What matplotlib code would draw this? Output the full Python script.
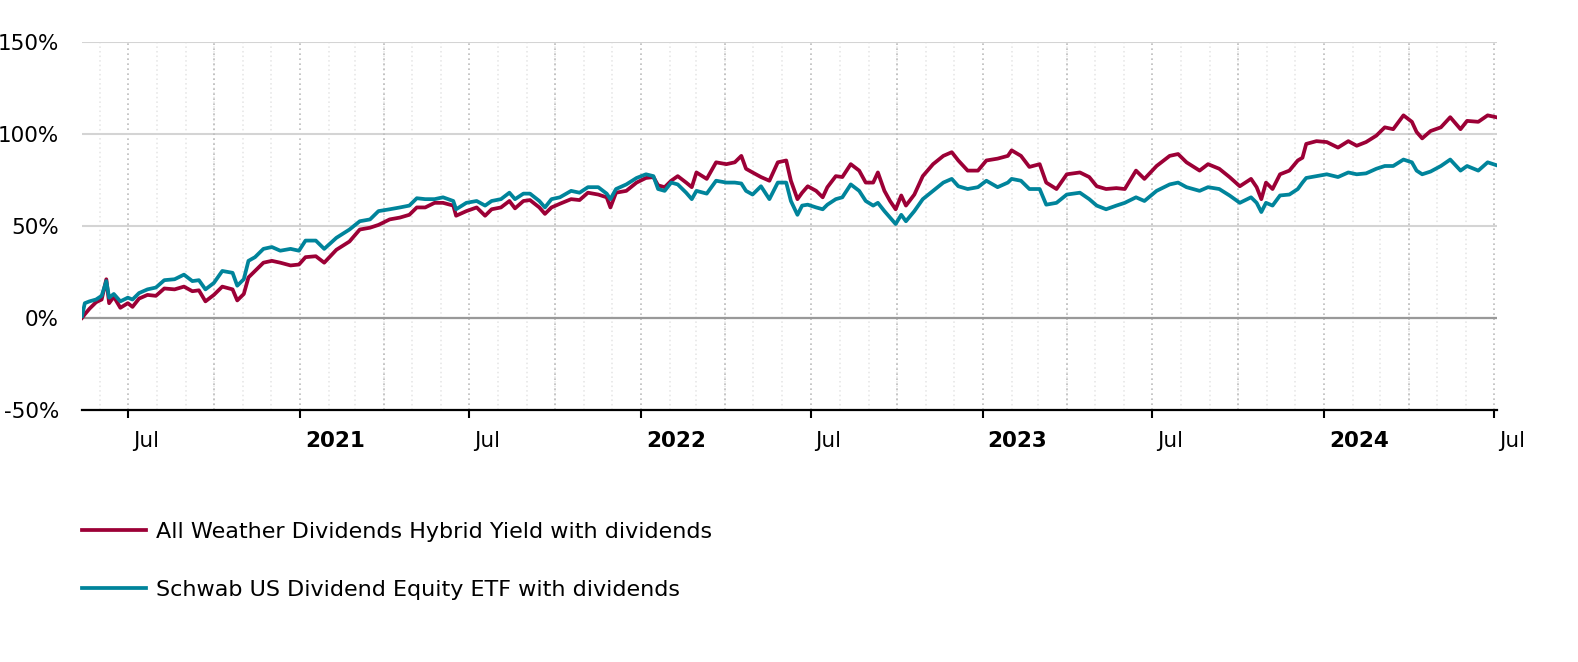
import matplotlib
matplotlib.use("Agg")
import matplotlib.pyplot as plt
from matplotlib.transforms import ScaledTranslation
import pandas as pd

# values (cumulative return in %)
dates = [
    "2020-05-13", "2020-05-16", "2020-05-21", "2020-05-28", "2020-06-03", "2020-06-08",
    "2020-06-11", "2020-06-16", "2020-06-23", "2020-07-01", "2020-07-06", "2020-07-13",
    "2020-07-22", "2020-07-31", "2020-08-09", "2020-08-20", "2020-08-30", "2020-09-08",
    "2020-09-15", "2020-09-22", "2020-10-01", "2020-10-10", "2020-10-21", "2020-10-26",
    "2020-11-02", "2020-11-07", "2020-11-14", "2020-11-23", "2020-12-02", "2020-12-11",
    "2020-12-22", "2020-12-31", "2021-01-07", "2021-01-18", "2021-01-27", "2021-02-09",
    "2021-02-23", "2021-03-06", "2021-03-17", "2021-03-26", "2021-04-07", "2021-04-18",
    "2021-04-28", "2021-05-06", "2021-05-15", "2021-05-25", "2021-06-03", "2021-06-14",
    "2021-06-17", "2021-06-28", "2021-07-09", "2021-07-18", "2021-07-25", "2021-08-04",
    "2021-08-13", "2021-08-19", "2021-08-28", "2021-09-04", "2021-09-14", "2021-09-20",
    "2021-09-27", "2021-10-06", "2021-10-18", "2021-10-27", "2021-11-05", "2021-11-16",
    "2021-11-25", "2021-11-29", "2021-12-05", "2021-12-16", "2021-12-27", "2022-01-06",
    "2022-01-14", "2022-01-19", "2022-01-26", "2022-02-02", "2022-02-09", "2022-02-18",
    "2022-02-24", "2022-03-01", "2022-03-12", "2022-03-22", "2022-04-02", "2022-04-11",
    "2022-04-18", "2022-04-23", "2022-04-30", "2022-05-09", "2022-05-18", "2022-05-27",
    "2022-06-05", "2022-06-10", "2022-06-17", "2022-06-22", "2022-06-28", "2022-07-07",
    "2022-07-14", "2022-07-19", "2022-07-28", "2022-08-04", "2022-08-13", "2022-08-22",
    "2022-08-29", "2022-09-06", "2022-09-11", "2022-09-18", "2022-09-24", "2022-09-30",
    "2022-10-06", "2022-10-11", "2022-10-20", "2022-10-29", "2022-11-09", "2022-11-20",
    "2022-11-29", "2022-12-06", "2022-12-16", "2022-12-27", "2023-01-05", "2023-01-17",
    "2023-01-28", "2023-02-01", "2023-02-11", "2023-02-20", "2023-03-03", "2023-03-10",
    "2023-03-21", "2023-04-01", "2023-04-15", "2023-04-25", "2023-05-03", "2023-05-13",
    "2023-05-24", "2023-06-02", "2023-06-14", "2023-06-23", "2023-07-06", "2023-07-20",
    "2023-07-29", "2023-08-07", "2023-08-21", "2023-08-30", "2023-09-11", "2023-09-22",
    "2023-10-03", "2023-10-15", "2023-10-21", "2023-10-26", "2023-10-31", "2023-11-07",
    "2023-11-15", "2023-11-25", "2023-12-04", "2023-12-09", "2023-12-13", "2023-12-24",
    "2024-01-04", "2024-01-16", "2024-01-27", "2024-02-05", "2024-02-15", "2024-02-26",
    "2024-03-06", "2024-03-15", "2024-03-26", "2024-04-04", "2024-04-09", "2024-04-15",
    "2024-04-24", "2024-05-05", "2024-05-15", "2024-05-26", "2024-06-02", "2024-06-14",
    "2024-06-24", "2024-07-03",
]

hybrid_yield = [
    0, 2, 5, 8.5, 10, 21, 8, 11.5, 5.5, 8, 6, 10.5,
    12.5, 12, 16, 15.5, 17, 14.5, 15, 9, 12.5, 17, 15.5, 9.5,
    13, 22, 25.5, 30, 31, 30, 28.5, 29, 33, 33.5, 30, 37,
    41.5, 48, 49, 50.5, 53.5, 54.5, 56, 60, 60, 62.5, 62.5, 61,
    55.5, 58, 60, 55.5, 59, 60, 63.5, 59.5, 63.5, 64, 60, 56.5,
    60, 62, 64.5, 64, 68, 67, 65.5, 60, 68, 69, 73.5, 76,
    76.5, 72, 71, 74.5, 77, 73.5, 71, 79, 75.5, 84.5, 83.5, 84.5,
    88, 81, 79, 76.5, 74.5, 84.5, 85.5, 74.5, 64.5, 68, 71.5, 69,
    65.5, 71, 77, 76.5, 83.5, 80, 73.5, 73.5, 79, 69, 63.5, 59,
    66.5, 61, 67, 77, 83.5, 88, 90, 85.5, 80, 80, 85.5, 86.5,
    88, 91, 88, 82, 83.5, 73.5, 70, 78, 79, 76.5, 71.5, 70,
    70.5, 70, 80, 75.5, 82.5, 88, 89, 84.5, 80, 83.5, 81, 76.5,
    71.5, 75.5, 71, 64.5, 73.5, 70, 78, 80, 85.5, 87, 94.5, 96,
    95.5, 92.5, 96, 93.5, 95.5, 99, 103.5, 102.5, 110, 106.5, 101, 97.5,
    101.5, 103.5, 109, 102.5, 107, 106.5, 110, 109,
]

schwab_etf = [
    1, 8, 9, 10, 12, 20, 11, 13, 9, 11, 10, 13.5,
    15.5, 16.5, 20.5, 21, 23.5, 20, 20.5, 15.5, 19, 25.5, 24.5, 17.5,
    21, 31, 33, 37.5, 38.5, 36.5, 37.5, 36.5, 42, 42, 37.5, 43.5,
    48, 52.5, 53.5, 58, 59, 60, 61, 65, 64.5, 64.5, 65.5, 63.5,
    59, 62.5, 63.5, 61, 63.5, 64.5, 68, 64.5, 67.5, 67.5, 63.5, 60,
    64.5, 65.5, 69, 68, 71, 71, 67.5, 64.5, 70, 72.5, 76, 78,
    77, 70, 69, 73.5, 72.5, 68, 64.5, 69, 67.5, 74.5, 73.5, 73.5,
    73, 69, 67, 71.5, 64.5, 73.5, 73.5, 63.5, 56, 61, 61.5, 60,
    59, 61.5, 64.5, 65.5, 72.5, 69, 63.5, 61, 62.5, 58, 54.5, 51,
    56, 52.5, 58, 64.5, 69, 73.5, 75.5, 71.5, 70, 71, 74.5, 71,
    73.5, 75.5, 74.5, 70, 70, 61.5, 62.5, 67, 68, 64.5, 61, 59,
    61, 62.5, 65.5, 63.5, 69, 72.5, 73.5, 71, 69, 71, 70, 66.5,
    62.5, 65.5, 62.5, 57.5, 62.5, 61, 66.5, 67, 70, 73.5, 76, 77,
    78, 76.5, 79, 78, 78.5, 81, 82.5, 82.5, 86, 84.5, 80, 78,
    79.5, 82.5, 86, 80, 82.5, 80, 84.5, 83,
]

series_labels = [
    "All Weather Dividends Hybrid Yield with dividends",
    "Schwab US Dividend Equity ETF with dividends",
]
series_colors = ["#9c0036", "#00849b"]
y_ticks = [-50, 0, 50, 100, 150]

x = pd.to_datetime(dates)

W, H = 1578, 662
fig = plt.figure(figsize=(W / 100, H / 100), dpi=100)
ax = fig.add_axes([82 / W, 1 - 410 / H, (1497 - 82) / W, (410 - 41.7) / H])

l1, = ax.plot(x, hybrid_yield, color=series_colors[0], lw=2.7, zorder=3)
l2, = ax.plot(x, schwab_etf, color=series_colors[1], lw=2.7, zorder=4)

ax.set_xlim(pd.Timestamp("2020-05-13"), pd.Timestamp("2024-07-04"))
ax.set_ylim(-50, 150)

# y axis
ax.set_yticks(y_ticks)
ax.set_yticklabels([f"{v}%" for v in y_ticks])
ax.tick_params(axis="y", length=0, pad=16.5, labelsize=15.5)
ax.yaxis.grid(True, color="#d4d4d4", lw=1.5)
ax.axhline(0, color="#999999", lw=1.6, zorder=2)

# x axis: Jan/Jul labelled, monthly dotted grid
tick_dates = pd.date_range("2020-07-01", "2024-07-01", freq="6MS")
month_dates = pd.date_range("2020-06-01", "2024-07-01", freq="MS")
ax.set_xticks(tick_dates)
ax.set_xticklabels(["Jul" if d.month == 7 else str(d.year) for d in tick_dates])
ax.set_xticks(month_dates, minor=True)
ax.tick_params(axis="x", which="major", length=6, width=1.5, color="black",
               pad=9, labelsize=15.5)
ax.tick_params(axis="x", which="minor", length=0)
ax.xaxis.grid(True, which="minor", color="#e4e4e4", ls=(0, (1, 2)), lw=1.1)
ax.xaxis.grid(True, which="major", color="#bcbcbc", ls=(0, (1, 2)), lw=1.2)
for d in month_dates:
    if d.month in (4, 10):
        ax.axvline(d, color="#bcbcbc", ls=(0, (1, 2)), lw=1.2, zorder=0.6)

shift = ScaledTranslation(5 / 100, 0, fig.dpi_scale_trans)
for lbl, d in zip(ax.get_xticklabels(), tick_dates):
    lbl.set_ha("left")
    lbl.set_fontweight("bold" if d.month == 1 else "normal")
    lbl.set_transform(lbl.get_transform() + shift)

for s in ["top", "right", "left"]:
    ax.spines[s].set_visible(False)
ax.spines["bottom"].set_color("black")
ax.spines["bottom"].set_linewidth(1.6)
ax.set_axisbelow(True)

fig.legend([l1, l2], series_labels, loc="upper left",
           bbox_to_anchor=(82 / W, 1 - 522 / H), frameon=False, fontsize=16,
           handlelength=2.9, handletextpad=0.45, labelspacing=1.72,
           borderpad=0, borderaxespad=0)

fig.savefig("out.png", dpi=100)
